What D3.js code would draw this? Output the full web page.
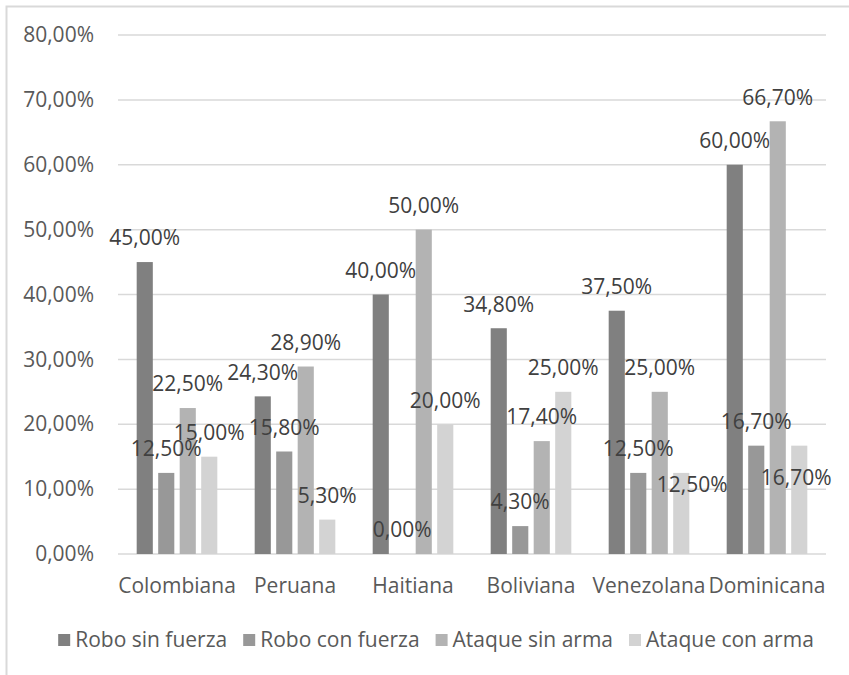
<!DOCTYPE html>
<html lang="es">

<head>
    <meta charset="UTF-8">
    <title>Delitos por nacionalidad</title>
    <script src="https://d3js.org/d3.v7.min.js"></script>
    <style>
        body { margin: 0; background: #fff; }
        text { font-family: "Open Sans", sans-serif; }
    </style>
</head>

<body>
    <div id="chart"></div>
    <script>
        // data (percent)
        const categories = ["Colombiana", "Peruana", "Haitiana", "Boliviana", "Venezolana", "Dominicana"];
        const seriesNames = ["Robo sin fuerza", "Robo con fuerza", "Ataque sin arma", "Ataque con arma"];
        const roboSinFuerza = [45.0, 24.3, 40.0, 34.8, 37.5, 60.0];
        const roboConFuerza = [12.5, 15.8, 0.0, 4.3, 12.5, 16.7];
        const ataqueSinArma = [22.5, 28.9, 50.0, 17.4, 25.0, 66.7];
        const ataqueConArma = [15.0, 5.3, 20.0, 25.0, 12.5, 16.7];
        const yTicks = [0, 10, 20, 30, 40, 50, 60, 70, 80];
        const colors = ["#808080", "#989898", "#b3b3b3", "#d3d3d3"];

        const seriesValues = [roboSinFuerza, roboConFuerza, ataqueSinArma, ataqueConArma];

        // a couple of labels were pushed aside in the original to dodge neighbours
        const labelNudge = {
            "Venezolana|Ataque con arma": [11, 36],
            "Dominicana|Ataque con arma": [-3, 56]
        };

        const W = 849, H = 675;
        const plot = { left: 118, right: 826, top: 35, bottom: 554 };

        const fmt = v => v.toFixed(2).replace(".", ",") + "%";

        const svg = d3.select("#chart").append("svg")
            .attr("width", W)
            .attr("height", H);

        // chart area border (cut by the window on the right and bottom)
        svg.append("rect")
            .attr("x", 6.5).attr("y", 6.5)
            .attr("width", W + 10).attr("height", H + 10)
            .attr("fill", "none")
            .attr("stroke", "#d9d9d9")
            .attr("stroke-width", 2);

        const x = d3.scaleBand().domain(categories).range([plot.left, plot.right]);
        const xSub = d3.scaleBand().domain(seriesNames).range([-43, 43])
            .paddingInner(0.25).paddingOuter(0.125);
        const y = d3.scaleLinear().domain([0, 80]).range([plot.bottom, plot.top]);

        // gridlines
        svg.append("g")
            .selectAll("line")
            .data(yTicks)
            .join("line")
            .attr("x1", plot.left).attr("x2", plot.right)
            .attr("y1", d => y(d)).attr("y2", d => y(d))
            .attr("stroke", "#d9d9d9")
            .attr("stroke-width", 1.5);

        // y axis labels
        const yAxis = svg.append("g")
            .attr("transform", "translate(" + (plot.left - 24) + ",0)")
            .call(d3.axisLeft(y).tickValues(yTicks).tickFormat(fmt).tickSize(0).tickPadding(0));
        yAxis.select(".domain").remove();
        yAxis.selectAll("text")
            .attr("font-size", 21)
            .attr("font-family", "Open Sans, sans-serif")
            .attr("fill", "#595959");

        // x axis labels
        const xAxis = svg.append("g")
            .attr("transform", "translate(0," + plot.bottom + ")")
            .call(d3.axisBottom(x).tickSize(0).tickPadding(24));
        xAxis.select(".domain").remove();
        xAxis.selectAll("text")
            .attr("font-size", 21)
            .attr("font-family", "Open Sans, sans-serif")
            .attr("fill", "#595959");

        // flat list of bar records
        const bars = [];
        categories.forEach((c, i) => {
            seriesNames.forEach((s, j) => {
                bars.push({ cat: c, series: s, j: j, value: seriesValues[j][i] });
            });
        });
        const cx = d => x(d.cat) + x.bandwidth() / 2 + xSub(d.series);
        const nudge = d => labelNudge[d.cat + "|" + d.series] || [0, 0];

        svg.append("g")
            .selectAll("rect")
            .data(bars)
            .join("rect")
            .attr("x", cx)
            .attr("width", xSub.bandwidth())
            .attr("y", d => y(d.value))
            .attr("height", d => y(0) - y(d.value))
            .attr("fill", d => colors[d.j]);

        // value labels drawn over the bars, like the original
        svg.append("g")
            .selectAll("text")
            .data(bars)
            .join("text")
            .attr("x", d => cx(d) + xSub.bandwidth() / 2 + nudge(d)[0])
            .attr("y", d => y(d.value) - 24 + nudge(d)[1])
            .attr("dy", "0.35em")
            .attr("text-anchor", "middle")
            .attr("font-size", 21)
            .attr("fill", "#404040")
            .text(d => fmt(d.value));

        // legend
        const legend = svg.append("g").attr("transform", "translate(0,640)");
        const items = legend.selectAll("g")
            .data(seriesNames)
            .join("g");
        items.append("rect")
            .attr("width", 12).attr("height", 12)
            .attr("y", -6)
            .attr("fill", (d, i) => colors[i]);
        items.append("text")
            .attr("x", 17)
            .attr("dy", "0.35em")
            .attr("font-size", 21)
            .attr("fill", "#595959")
            .text(d => d);

        let widths = [];
        items.each(function () { widths.push(this.getBBox().width); });
        const gap = 16;
        const total = d3.sum(widths) + gap * (widths.length - 1);
        let cursor = 436 - total / 2;
        items.attr("transform", (d, i) => {
            const t = "translate(" + cursor + ",0)";
            cursor += widths[i] + gap;
            return t;
        });
    </script>
</body>

</html>
